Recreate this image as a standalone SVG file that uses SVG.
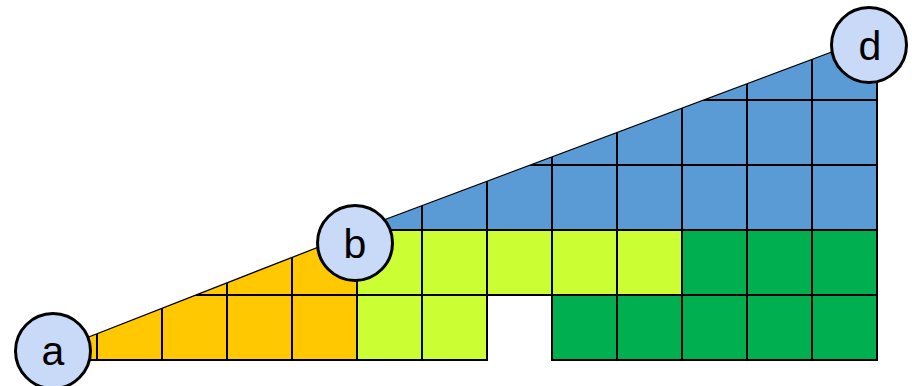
<svg xmlns="http://www.w3.org/2000/svg" width="912" height="386" viewBox="0 0 912 386">
  <defs>
    <style>
      .grid { stroke: #000; stroke-width: 2; fill: none; }
      .cell { stroke: #000; stroke-width: 2; }
      .lime { fill: #CCFF33; }
      .green { fill: #00B050; }
      .edge { stroke: #000; stroke-width: 1.3; fill: none; }
      .node circle { fill: #C9DAF8; stroke: #000; stroke-width: 3; }
      .node text { font-family: "Liberation Sans", Arial, sans-serif; font-size: 41px; fill: #000; text-anchor: middle; }
    </style>
    <clipPath id="clipYellow">
      <polygon points="53,351 357,232 357,360 53,360"/>
    </clipPath>
    <clipPath id="clipBlue">
      <polygon points="357,230 877,35 877,230"/>
    </clipPath>
  </defs>

  <g id="yellow-region">
    <polygon points="53,351 357,232 357,360 53,360" fill="#FFC800"/>
    <g clip-path="url(#clipYellow)" class="grid">
      <line x1="97" y1="200" x2="97" y2="360"/>
      <line x1="162" y1="200" x2="162" y2="360"/>
      <line x1="227" y1="200" x2="227" y2="360"/>
      <line x1="292" y1="200" x2="292" y2="360"/>
      <line x1="40" y1="295" x2="357" y2="295"/>
    </g>
    <line class="grid" x1="53" y1="360" x2="357" y2="360"/>
  </g>

  <g id="blue-region">
    <polygon points="357,230 877,35 877,230" fill="#5B9BD5"/>
    <g clip-path="url(#clipBlue)" class="grid">
      <line x1="422" y1="0" x2="422" y2="230"/>
      <line x1="487" y1="0" x2="487" y2="230"/>
      <line x1="552" y1="0" x2="552" y2="230"/>
      <line x1="617" y1="0" x2="617" y2="230"/>
      <line x1="682" y1="0" x2="682" y2="230"/>
      <line x1="747" y1="0" x2="747" y2="230"/>
      <line x1="812" y1="0" x2="812" y2="230"/>
      <line x1="357" y1="165" x2="877" y2="165"/>
      <line x1="357" y1="100" x2="877" y2="100"/>
    </g>
    <line class="grid" x1="877" y1="35" x2="877" y2="230"/>
  </g>

  <g id="cells">
    <rect class="cell lime" x="357" y="230" width="65" height="65"/>
    <rect class="cell lime" x="422" y="230" width="65" height="65"/>
    <rect class="cell lime" x="487" y="230" width="65" height="65"/>
    <rect class="cell lime" x="552" y="230" width="65" height="65"/>
    <rect class="cell lime" x="617" y="230" width="65" height="65"/>
    <rect class="cell lime" x="357" y="295" width="65" height="65"/>
    <rect class="cell lime" x="422" y="295" width="65" height="65"/>
    <rect class="cell green" x="682" y="230" width="65" height="65"/>
    <rect class="cell green" x="747" y="230" width="65" height="65"/>
    <rect class="cell green" x="812" y="230" width="65" height="65"/>
    <rect class="cell green" x="552" y="295" width="65" height="65"/>
    <rect class="cell green" x="617" y="295" width="65" height="65"/>
    <rect class="cell green" x="682" y="295" width="65" height="65"/>
    <rect class="cell green" x="747" y="295" width="65" height="65"/>
    <rect class="cell green" x="812" y="295" width="65" height="65"/>
  </g>

  <g id="connectors">
    <line class="edge" x1="53" y1="351" x2="357" y2="232"/>
    <line class="edge" x1="357" y1="230" x2="877" y2="35"/>
  </g>

  <g id="node-a" class="node">
    <circle cx="53" cy="351" r="37.5"/>
    <text x="53" y="365">a</text>
  </g>
  <g id="node-b" class="node">
    <circle cx="355" cy="243" r="37.5"/>
    <text x="355" y="258">b</text>
  </g>
  <g id="node-d" class="node">
    <circle cx="869" cy="45" r="37.5"/>
    <text x="870" y="60">d</text>
  </g>
</svg>
